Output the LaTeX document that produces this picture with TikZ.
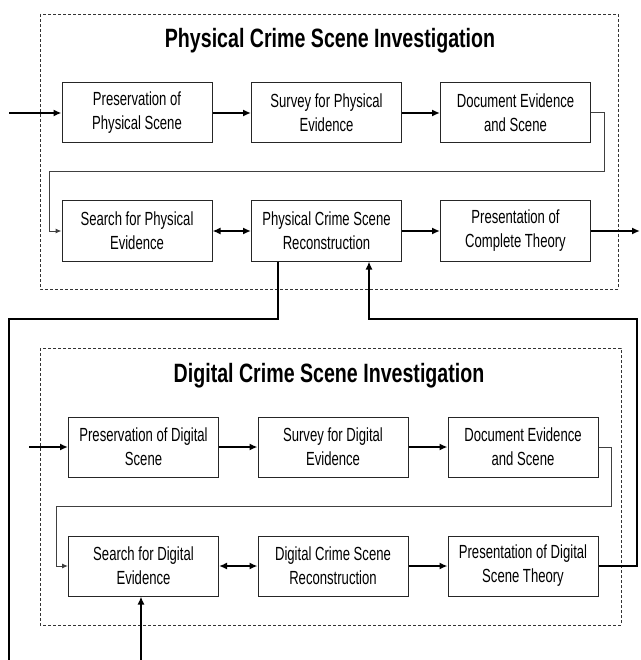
\documentclass[tikz,border=0pt]{standalone}
\usepackage{fontspec}
\setmainfont{Liberation Sans}[FakeStretch=0.69]
\newfontfamily\titlefont{Liberation Sans}[FakeStretch=0.74]
\usetikzlibrary{arrows.meta}
\begin{document}
\begin{tikzpicture}[x=1pt,y=-1pt,
  stepbox/.style={draw=black!85, line width=1pt, minimum width=150pt, minimum height=60pt,
    inner sep=0pt, align=center, font=\fontsize{19}{24}\selectfont},
  titletext/.style={font=\titlefont\fontsize{26.5}{30}\selectfont\bfseries},
  bigarrow/.style={line width=2pt, -{Latex[length=8pt,width=7pt]}},
  dblarrow/.style={line width=2pt, {Latex[length=8pt,width=7pt]}-{Latex[length=8pt,width=7pt]}},
  bigline/.style={line width=2pt},
  thinarrow/.style={line width=1pt, draw=black!75, -{Latex[length=6pt,width=5pt]}},
  dashbox/.style={draw=black!80, line width=0.8pt, dash pattern=on 3pt off 2pt}
]
\useasboundingbox (0,0) rectangle (640,660);

% containers
\draw[dashbox] (40,14) rectangle (618,289);
\draw[dashbox] (40,348) rectangle (621,625);

\node[titletext] (t1) at (330,41) {Physical Crime Scene Investigation};
\node[titletext] (t2) at (329,376) {Digital Crime Scene Investigation};

% physical
\node[stepbox] (p1) at (137,113) {Preservation of\\Physical Scene};
\node[stepbox] (p2) at (326.5,113) {Survey for Physical\\Evidence};
\node[stepbox] (p3) at (515.5,113) {Document Evidence\\and Scene};
\node[stepbox] (ps) at (137,231) {Search for Physical\\Evidence};
\node[stepbox] (pr) at (326.5,231) {Physical Crime Scene\\Reconstruction};
\node[stepbox] (pp) at (515.5,231) {Presentation of\\Complete Theory};

% digital
\node[stepbox] (d1) at (143.5,447) {Preservation of Digital\\Scene};
\node[stepbox] (d2) at (333,447) {Survey for Digital\\Evidence};
\node[stepbox] (d3) at (523,447) {Document Evidence\\and Scene};
\node[stepbox] (ds) at (143.5,566) {Search for Digital\\Evidence};
\node[stepbox] (dr) at (333,566) {Digital Crime Scene\\Reconstruction};
\node[stepbox] (dp) at (523,566) {Presentation of Digital\\Scene Theory};

% coordinates
\coordinate (i1) at (9,113);
\coordinate (i2) at (29,447);
\coordinate (a1) at (604,172);
\coordinate (a2) at (49,172);
\coordinate (g1) at (611,506);
\coordinate (g2) at (56,506);
\coordinate (o1) at (640,231);
\coordinate (b1) at (278,319);
\coordinate (b2) at (9,319);
\coordinate (b3) at (9,660);
\coordinate (c1) at (637,566);
\coordinate (c2) at (637,319);
\coordinate (c3) at (369,319);
\coordinate (e1) at (141,660);

% physical flow
\draw[bigarrow] (i1) -- (p1.west);
\draw[bigarrow] (p1) -- (p2);
\draw[bigarrow] (p2) -- (p3);
\draw[thinarrow] (p3.east) -- (p3.east -| a1) -- (a1) -- (a2) |- (ps.west);
\draw[dblarrow] (ps) -- (pr);
\draw[bigarrow] (pr) -- (pp);
\draw[bigarrow] (pp.east) -- (o1);

% digital flow
\draw[bigarrow] (i2) -- (d1.west);
\draw[bigarrow] (d1) -- (d2);
\draw[bigarrow] (d2) -- (d3);
\draw[thinarrow] (d3.east) -- (d3.east -| g1) -- (g1) -- (g2) |- (ds.west);
\draw[dblarrow] (ds) -- (dr);
\draw[bigarrow] (dr) -- (dp);

% links between investigations
\draw[bigline] (b1 |- pr.south) -- (b1) -- (b2) -- (b3);
\draw[bigarrow] (dp.east) -- (c1) -- (c2) -- (c3) -- (c3 |- pr.south);
\draw[bigarrow] (e1) -- (e1 |- ds.south);
\end{tikzpicture}
\end{document}
